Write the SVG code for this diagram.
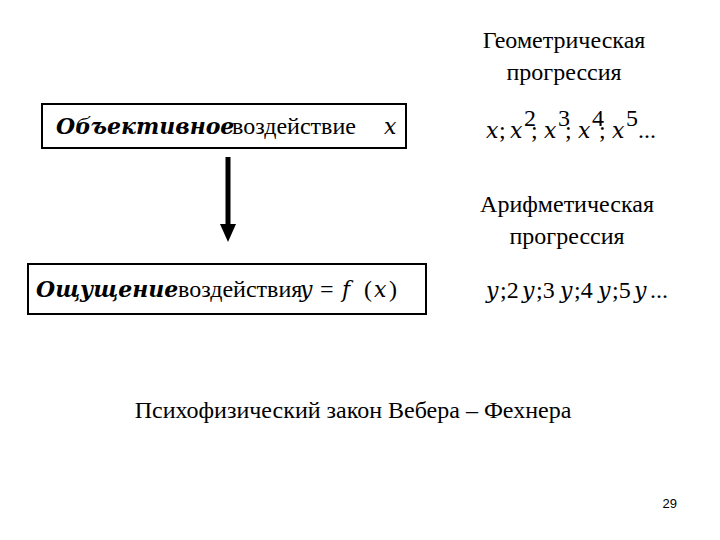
<svg xmlns="http://www.w3.org/2000/svg" width="720" height="540" viewBox="0 0 720 540">
<style>
.t{font-size:24px;font-family:'Liberation Serif','Times New Roman',serif;fill:#000}
.i{font-size:22px;font-family:'DejaVu Serif',serif;font-style:italic;fill:#000}
.b{stroke:#000;stroke-width:2;fill:#fff}
</style>
<rect width="720" height="540" fill="#fff"/>
<g id="n1"><rect class="b" x="42" y="104" width="364" height="44"/>
<text class="i" x="56" y="134" font-weight="bold" font-size="20">Объективное</text>
<text class="t" x="232" y="134">воздействие</text>
<text class="i" x="384" y="134">x</text></g>
<g id="n2"><rect class="b" x="28" y="264" width="398" height="50"/>
<text class="i" x="36" y="297" font-weight="bold" font-size="20">Ощущение</text>
<text class="t" x="178" y="297">воздействия</text>
<text class="i" x="300" y="297">y</text>
<text class="t" x="320" y="297">=</text>
<text class="i" x="342" y="297">f</text>
<text class="t" x="364" y="297">(</text>
<text class="i" x="374" y="297">x</text>
<text class="t" x="389" y="297">)</text></g>
<g id="connectors"><line x1="228" y1="157" x2="228" y2="226" stroke="#000" stroke-width="5"/><polygon points="220,224 236,224 228,242" fill="#000"/></g>
<g id="n3"><text class="t" x="564" y="48" text-anchor="middle">Геометрическая</text><text class="t" x="564" y="80" text-anchor="middle">прогрессия</text></g>
<g id="n4">
<text class="i" x="486" y="138">x</text><text class="t" x="499" y="138">;</text>
<text class="i" x="510" y="138">x</text><text class="t" x="524" y="126" font-size="14">2</text><text class="t" x="531" y="138">;</text>
<text class="i" x="544" y="138">x</text><text class="t" x="558" y="126" font-size="14">3</text><text class="t" x="565" y="138">;</text>
<text class="i" x="578" y="138">x</text><text class="t" x="592" y="126" font-size="14">4</text><text class="t" x="599" y="138">;</text>
<text class="i" x="612" y="138">x</text><text class="t" x="626" y="126" font-size="14">5</text><text class="t" x="638" y="138">...</text></g>
<g id="n5"><text class="t" x="567" y="212" text-anchor="middle">Арифметическая</text><text class="t" x="567" y="244" text-anchor="middle">прогрессия</text></g>
<g id="n6">
<text class="i" x="486" y="298">y</text><text class="t" x="500" y="298">;2</text>
<text class="i" x="522" y="298">y</text><text class="t" x="536" y="298">;3</text>
<text class="i" x="560" y="298">y</text><text class="t" x="574" y="298">;4</text>
<text class="i" x="598" y="298">y</text><text class="t" x="612" y="298">;5</text>
<text class="i" x="634" y="298">y</text><text class="t" x="650" y="298">...</text></g>
<text class="t" x="353" y="418" text-anchor="middle">Психофизический закон Вебера – Фехнера</text>
<text x="677" y="508" text-anchor="end" font-family="Liberation Sans, sans-serif" font-size="13">29</text>
</svg>
